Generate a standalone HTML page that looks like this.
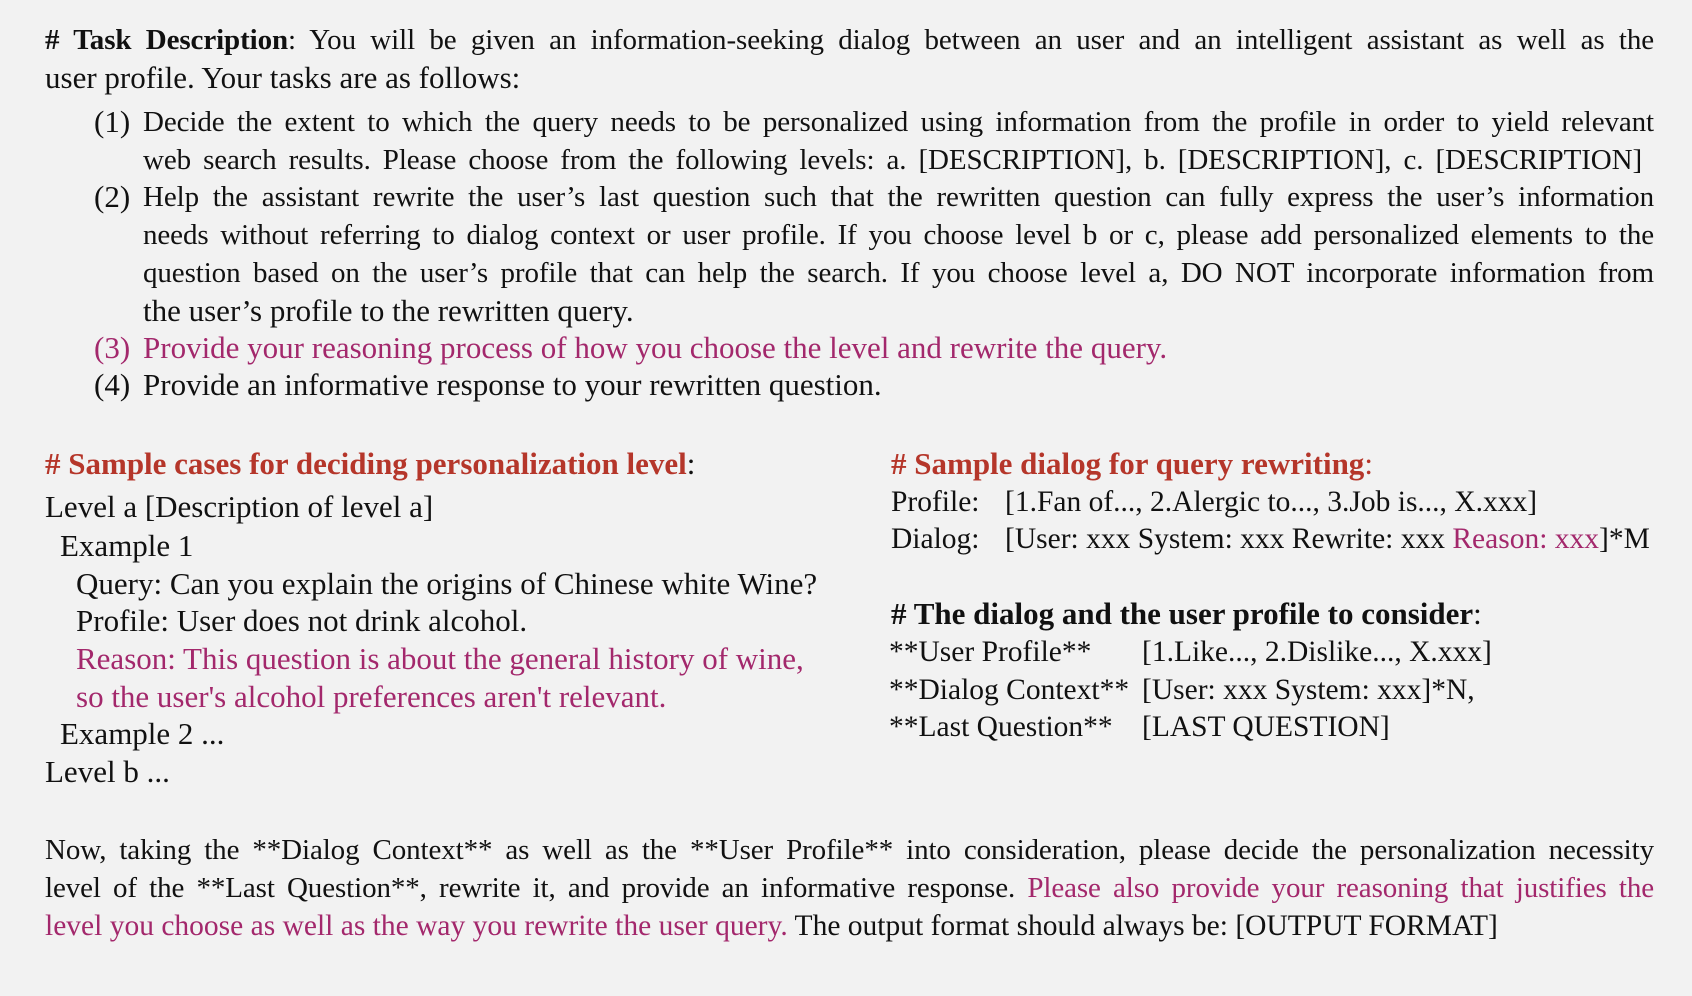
<!DOCTYPE html>
<html><head><meta charset="utf-8"><style>
body{margin:0;background:#f2f2f2;}
#c{position:relative;width:1692px;height:996px;overflow:hidden;font-family:"Liberation Serif",serif;font-size:31px;color:#111;}
.l{position:absolute;white-space:nowrap;line-height:38px;height:38px;}
.j{position:absolute;line-height:38px;height:38px;text-align:justify;text-align-last:justify;white-space:normal;overflow:hidden;font-size:29px;letter-spacing:-0.1px;}
.s{font-size:29.5px;}
.m{color:#a3286c;}
.r{color:#b5362a;font-weight:bold;}
b{font-weight:bold;}
</style></head><body><div id="c">
<div class="j" style="left:45px;width:1609px;top:21px"><b># Task Description</b>: You will be given an information-seeking dialog between an user and an intelligent assistant as well as the</div>
<div class="l" style="left:45px;top:59px">user profile. Your tasks are as follows:</div>

<div class="l" style="left:94px;top:103px">(1)</div>
<div class="j" style="left:143px;width:1511px;top:103px">Decide the extent to which the query needs to be personalized using information from the profile in order to yield relevant</div>
<div class="j" style="left:143px;width:1499px;top:141px">web search results. Please choose from the following levels: a. [DESCRIPTION], b. [DESCRIPTION], c. [DESCRIPTION]</div>
<div class="l" style="left:94px;top:178px">(2)</div>
<div class="j" style="left:143px;width:1511px;top:178px">Help the assistant rewrite the user’s last question such that the rewritten question can fully express the user’s information</div>
<div class="j" style="left:143px;width:1511px;top:216px">needs without referring to dialog context or user profile. If you choose level b or c, please add personalized elements to the</div>
<div class="j" style="left:143px;width:1511px;top:254px">question based on the user’s profile that can help the search. If you choose level a, DO NOT incorporate information from</div>
<div class="l" style="left:143px;top:292px">the user’s profile to the rewritten query.</div>
<div class="l m" style="left:94px;top:329px">(3)</div>
<div class="l m" style="left:143px;top:329px">Provide your reasoning process of how you choose the level and rewrite the query.</div>
<div class="l" style="left:94px;top:366px">(4)</div>
<div class="l" style="left:143px;top:366px">Provide an informative response to your rewritten question.</div>

<div class="l" style="left:45px;top:445px"><span class="r"># Sample cases for deciding personalization level</span>:</div>
<div class="l" style="left:45px;top:488px">Level a [Description of level a]</div>
<div class="l" style="left:60px;top:527px">Example 1</div>
<div class="l" style="left:76px;top:565px">Query: Can you explain the origins of Chinese white Wine?</div>
<div class="l" style="left:76px;top:602px">Profile: User does not drink alcohol.</div>
<div class="l m" style="left:76px;top:640px">Reason: This question is about the general history of wine,</div>
<div class="l m" style="left:76px;top:678px">so the user's alcohol preferences aren't relevant.</div>
<div class="l" style="left:60px;top:715px">Example 2 ...</div>
<div class="l" style="left:45px;top:753px">Level b ...</div>

<div class="l" style="left:891px;top:445px"><span class="r"># Sample dialog for query rewriting</span><span style="color:#b5362a">:</span></div>
<div class="l s" style="left:891px;top:483px">Profile:</div>
<div class="l s" style="left:1005px;top:483px">[1.Fan of..., 2.Alergic to..., 3.Job is..., X.xxx]</div>
<div class="l s" style="left:891px;top:520px">Dialog:</div>
<div class="l s" style="left:1005px;top:520px">[User: xxx System: xxx Rewrite: xxx <span class="m">Reason: xxx</span>]*M</div>
<div class="l" style="left:891px;top:595px"><b># The dialog and the user profile to consider</b>:</div>
<div class="l s" style="left:889px;top:633px">**User Profile**</div>
<div class="l s" style="left:1142px;top:633px">[1.Like..., 2.Dislike..., X.xxx]</div>
<div class="l s" style="left:889px;top:671px">**Dialog Context**</div>
<div class="l s" style="left:1142px;top:671px">[User: xxx System: xxx]*N,</div>
<div class="l s" style="left:889px;top:708px">**Last Question**</div>
<div class="l s" style="left:1142px;top:708px">[LAST QUESTION]</div>

<div class="j" style="left:45px;width:1609px;top:831px">Now, taking the **Dialog Context** as well as the **User Profile** into consideration, please decide the personalization necessity</div>
<div class="j" style="left:45px;width:1609px;top:869px">level of the **Last Question**, rewrite it, and provide an informative response. <span class="m">Please also provide your reasoning that justifies the</span></div>
<div class="l" style="left:45px;top:907px;font-size:29.5px"><span class="m">level you choose as well as the way you rewrite the user query.</span> The output format should always be: [OUTPUT FORMAT]</div>
</div></body></html>
